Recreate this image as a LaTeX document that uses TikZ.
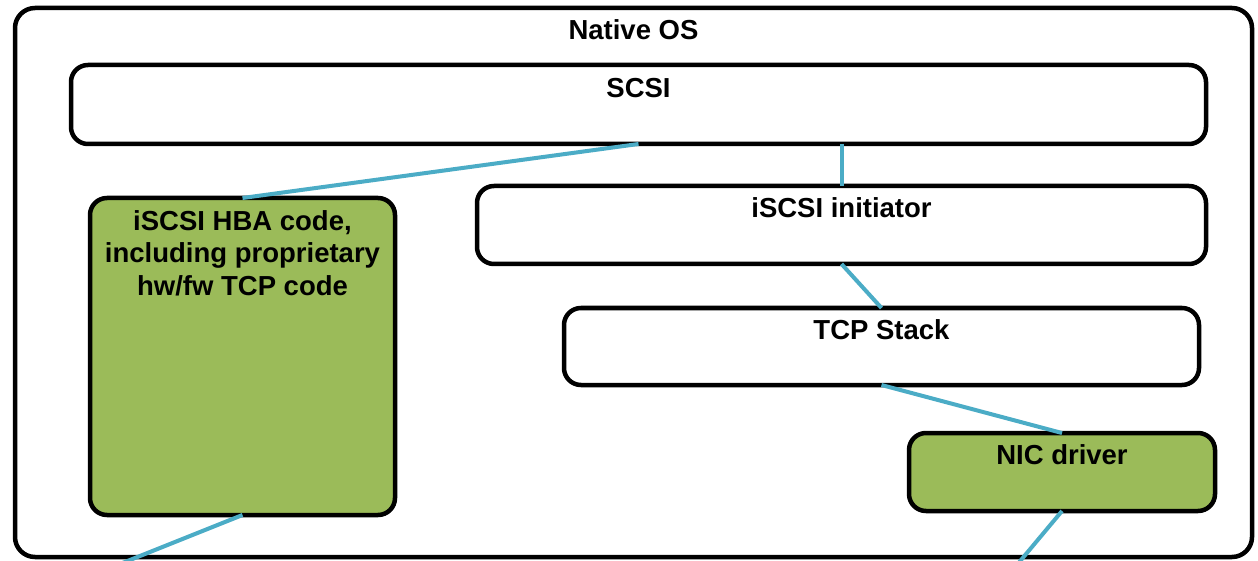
\documentclass[tikz,border=0pt]{standalone}
\usepackage{fontspec}
\setmainfont{Liberation Sans}
\usetikzlibrary{calc}
\definecolor{linkblue}{HTML}{4BACC6}
\definecolor{boxgreen}{HTML}{9BBB59}
\begin{document}
\begin{tikzpicture}[x=1pt,y=-1pt,
  layer/.style={draw=black, line width=4.5pt, rounded corners=17pt, fill=white, inner sep=0pt, outer sep=0pt},
  greenbox/.style={layer, fill=boxgreen},
  lbl/.style={font=\fontsize{27.5}{32.5}\selectfont\bfseries, inner sep=0pt, anchor=base, align=center},
  link/.style={draw=linkblue, line width=4pt}]
\clip (0,0) rectangle (1258,561);
\useasboundingbox (0,0) rectangle (1258,561);
% boxes
\node[layer, rounded corners=20pt, minimum width=1237pt, minimum height=549pt] (os) at (633.5,282.5) {};
\node[layer, minimum width=1135pt, minimum height=79pt] (scsi) at (638.5,104.5) {};
\node[layer, minimum width=729pt, minimum height=78pt] (init) at (841.5,225) {};
\node[layer, minimum width=635pt, minimum height=77pt] (tcp) at (881.5,346.5) {};
\node[greenbox, minimum width=306pt, minimum height=78pt] (nic) at (1062,472) {};
\node[greenbox, minimum width=305pt, minimum height=317pt] (hba) at (242.5,356.5) {};
% labels
\node[lbl] (osl) at ($(os.north)+(0,32)$) {Native OS};
\node[lbl] (scsil) at ($(scsi.north)+(0,33)$) {SCSI};
\node[lbl] (initl) at ($(init.north)+(0,32)$) {iSCSI initiator};
\node[lbl] (tcpl) at ($(tcp.north)+(0,31)$) {TCP Stack};
\node[lbl] (nicl) at ($(nic.north)+(0,31)$) {NIC driver};
\node[lbl] (hbal) at ($(hba.north)+(0,97)$) {iSCSI HBA code,\\including proprietary\\hw/fw TCP code};
% free ends
\coordinate (hbaout) at (115,566);
\coordinate (nicout) at (1016,566);
% connectors
\draw[link] (scsi.south) -- (hba.north);
\draw[link] (scsi.south -| init.north) -- (init.north);
\draw[link] (init.south) -- (tcp.north);
\draw[link] (tcp.south) -- (nic.north);
\draw[link] (hba.south) -- (hbaout);
\draw[link] (nic.south) -- (nicout);
\end{tikzpicture}
\end{document}
